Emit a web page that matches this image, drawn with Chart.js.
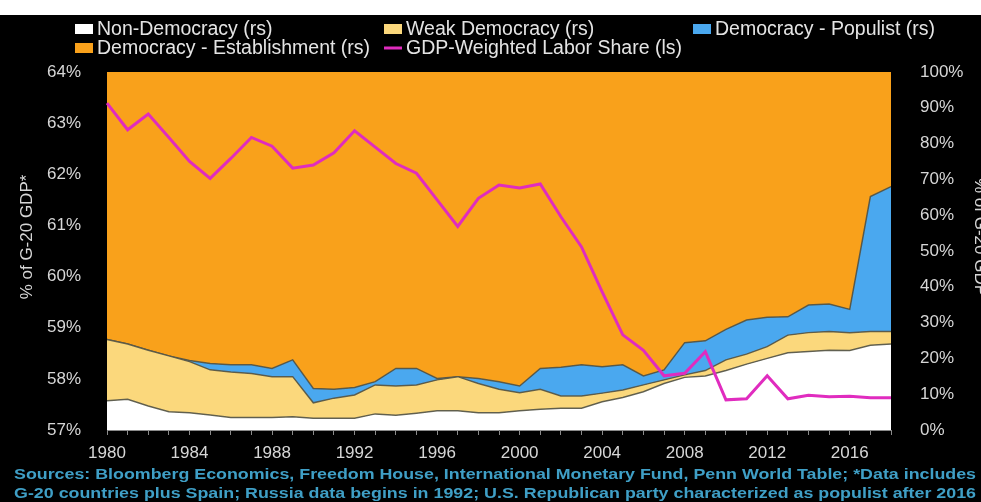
<!DOCTYPE html>
<html>
<head>
<meta charset="utf-8">
<script src="https://cdn.jsdelivr.net/npm/chart.js@4.4.0/dist/chart.umd.min.js"></script>
<style>
html, body { margin: 0; padding: 0; background: #000; }
canvas { display: block; }
</style>
</head>
<body>
<canvas id="chart" width="981" height="502"></canvas>
<script>
// categories
var years = ['1980','1981','1982','1983','1984','1985','1986','1987','1988','1989',
             '1990','1991','1992','1993','1994','1995','1996','1997','1998','1999',
             '2000','2001','2002','2003','2004','2005','2006','2007','2008','2009',
             '2010','2011','2012','2013','2014','2015','2016','2017','2018'];

// right scale, % of G-20 GDP (stacked)
var nonDemocracy = [8.2, 8.6, 6.7, 5.1, 4.8, 4.2, 3.5, 3.5, 3.5, 3.7,
                    3.3, 3.3, 3.3, 4.5, 4.1, 4.7, 5.4, 5.4, 4.8, 4.8,
                    5.4, 5.8, 6.1, 6.1, 7.9, 9.1, 10.7, 13.0, 14.7, 15.1,
                    16.6, 18.4, 20.0, 21.6, 21.9, 22.3, 22.2, 23.7, 24.0];
var weakDemocracy = [17.1, 15.4, 15.6, 15.6, 14.3, 12.6, 12.7, 12.3, 11.4, 11.2,
                     4.3, 5.6, 6.5, 8.1, 8.2, 7.9, 8.6, 9.5, 8.2, 6.6,
                     5.0, 5.6, 3.4, 3.4, 2.4, 2.1, 1.9, 1.0, 0.7, 1.5,
                     3.0, 2.8, 3.3, 4.9, 5.3, 5.2, 5.0, 3.8, 3.5];
var populist = [0, 0, 0, 0, 0.3, 1.8, 2.0, 2.4, 2.3, 4.7,
                4.0, 2.5, 2.1, 0.9, 4.9, 4.6, 0.4, 0, 1.4, 2.1,
                1.9, 5.8, 8.0, 8.7, 7.4, 7.0, 2.5, 2.8, 9.0, 8.3,
                8.5, 9.5, 8.2, 5.1, 7.7, 7.7, 6.5, 37.7, 40.5];
var establishment = [74.7, 76.0, 77.7, 79.3, 80.6, 81.4, 81.8, 81.8, 82.8, 80.4,
                     88.4, 88.6, 88.1, 86.5, 82.8, 82.8, 85.6, 85.1, 85.6, 86.5,
                     87.7, 82.8, 82.5, 81.8, 82.3, 81.8, 84.9, 83.2, 75.6, 75.1,
                     71.9, 69.3, 68.5, 68.4, 65.1, 64.8, 66.3, 34.8, 32.0];

// left scale, %
var laborShare = [63.39, 62.87, 63.18, 62.72, 62.25, 61.92, 62.31, 62.72, 62.55, 62.12,
                  62.18, 62.42, 62.85, 62.53, 62.21, 62.02, 61.50, 60.98, 61.53, 61.79,
                  61.73, 61.81, 61.17, 60.58, 59.70, 58.86, 58.56, 58.06, 58.11, 58.53,
                  57.59, 57.61, 58.06, 57.61, 57.68, 57.65, 57.66, 57.63, 57.63];

var sourceLines = [
  'Sources: Bloomberg Economics, Freedom House, International Monetary Fund, Penn World Table; *Data includes',
  'G-20 countries plus Spain; Russia data begins in 1992; U.S. Republican party characterized as populist after 2016'
];

var tickColor = '#d6d6d6';
var edgeColor = 'rgba(85,85,70,0.9)';

function stretchText(ctx, text, x, y, width) {
  var w = ctx.measureText(text).width;
  ctx.save();
  ctx.translate(x, y);
  ctx.scale(width / w, 1);
  ctx.fillText(text, 0, 0);
  ctx.restore();
}

var decorations = {
  id: 'decorations',
  beforeDraw: function(chart) {
    var ctx = chart.ctx;
    ctx.save();
    ctx.fillStyle = '#000';
    ctx.fillRect(0, 0, chart.width, chart.height);
    ctx.fillStyle = '#fff';
    ctx.fillRect(0, 0, chart.width, 15);
    ctx.restore();
  },
  afterDraw: function(chart) {
    var ctx = chart.ctx;
    var area = chart.chartArea;
    var midY = (area.top + area.bottom) / 2 - 14;
    ctx.save();

    // legend, three columns
    var cols = [75, 384, 693];
    var rows = [29, 48];
    ctx.font = '19.5px "Liberation Sans", Arial, sans-serif';
    ctx.textBaseline = 'middle';
    ctx.textAlign = 'left';
    chart.data.datasets.forEach(function(ds, i) {
      var x = cols[i % 3], y = rows[Math.floor(i / 3)];
      if (ds.fill === false) {
        ctx.strokeStyle = ds.borderColor;
        ctx.lineWidth = 3;
        ctx.beginPath();
        ctx.moveTo(x, y);
        ctx.lineTo(x + 18, y);
        ctx.stroke();
      } else {
        ctx.fillStyle = ds.backgroundColor;
        ctx.fillRect(x, y - 5, 18, 10);
      }
      ctx.fillStyle = '#e4e4e4';
      ctx.fillText(ds.label, x + 22, y + 1);
    });

    // axis titles
    ctx.font = '17px "Liberation Sans", Arial, sans-serif';
    ctx.fillStyle = tickColor;
    ctx.textAlign = 'center';
    ctx.save();
    ctx.translate(27, midY);
    ctx.rotate(-Math.PI / 2);
    ctx.textBaseline = 'middle';
    ctx.fillText('% of G-20 GDP*', 0, 0);
    ctx.restore();
    ctx.save();
    ctx.translate(975, midY);
    ctx.rotate(Math.PI / 2);
    ctx.textBaseline = 'alphabetic';
    ctx.fillText('% of G-20 GDP', 0, 0);
    ctx.restore();

    // source note
    ctx.font = 'bold 15px "Liberation Sans", Arial, sans-serif';
    ctx.fillStyle = '#3f9fc6';
    ctx.textAlign = 'left';
    ctx.textBaseline = 'middle';
    stretchText(ctx, sourceLines[0], 14, 475, 962);
    stretchText(ctx, sourceLines[1], 14, 494, 962);
    ctx.restore();
  }
};

var ctx = document.getElementById('chart').getContext('2d');
var chart = new Chart(ctx, {
  type: 'line',
  data: {
    labels: years,
    datasets: [
      { label: 'Non-Democracy (rs)', data: nonDemocracy, yAxisID: 'y1', fill: 'origin',
        backgroundColor: '#ffffff', borderColor: edgeColor, borderWidth: 1.5, order: 1 },
      { label: 'Weak Democracy (rs)', data: weakDemocracy, yAxisID: 'y1', fill: '-1',
        backgroundColor: '#fbd87c', borderColor: edgeColor, borderWidth: 1.5, order: 1 },
      { label: 'Democracy - Populist (rs)', data: populist, yAxisID: 'y1', fill: '-1',
        backgroundColor: '#4aa8ef', borderColor: edgeColor, borderWidth: 1.5, order: 1 },
      { label: 'Democracy - Establishment (rs)', data: establishment, yAxisID: 'y1', fill: '-1',
        backgroundColor: '#f9a11b', borderColor: '#f9a11b', borderWidth: 0, order: 1 },
      { label: 'GDP-Weighted Labor Share (ls)', data: laborShare, yAxisID: 'y', fill: false,
        borderColor: '#e02cbf', borderWidth: 3, order: 0 }
    ]
  },
  options: {
    responsive: false,
    animation: false,
    devicePixelRatio: 1,
    layout: { padding: { top: 72, bottom: 42, left: 0, right: 0 } },
    elements: { point: { radius: 0 }, line: { tension: 0 } },
    plugins: { legend: { display: false }, tooltip: { enabled: false } },
    scales: {
      x: {
        grid: { display: true, drawOnChartArea: false, drawTicks: true, tickLength: 5, color: '#8a8a8a' },
        border: { display: true, color: '#8a8a8a' },
        ticks: {
          color: tickColor, font: { size: 17, family: '"Liberation Sans", Arial' },
          autoSkip: false, maxRotation: 0, padding: 8,
          callback: function(value, index) {
            return index % 4 === 0 ? this.getLabelForValue(value) : '';
          }
        },
        afterFit: function(scale) { scale.height = 30; }
      },
      y: {
        position: 'left', min: 57, max: 64,
        grid: { display: false, drawTicks: false },
        border: { display: false },
        ticks: {
          stepSize: 1, color: tickColor, padding: 26,
          font: { size: 17, family: '"Liberation Sans", Arial' },
          callback: function(v) { return v + '%'; }
        },
        afterFit: function(scale) { scale.width = 107; }
      },
      y1: {
        position: 'right', min: 0, max: 100, stacked: true,
        grid: { display: false, drawTicks: false },
        border: { display: false },
        ticks: {
          stepSize: 10, color: tickColor, padding: 29,
          font: { size: 17, family: '"Liberation Sans", Arial' },
          callback: function(v) { return v + '%'; }
        },
        afterFit: function(scale) { scale.width = 90; }
      }
    }
  },
  plugins: [decorations]
});
</script>
</body>
</html>
